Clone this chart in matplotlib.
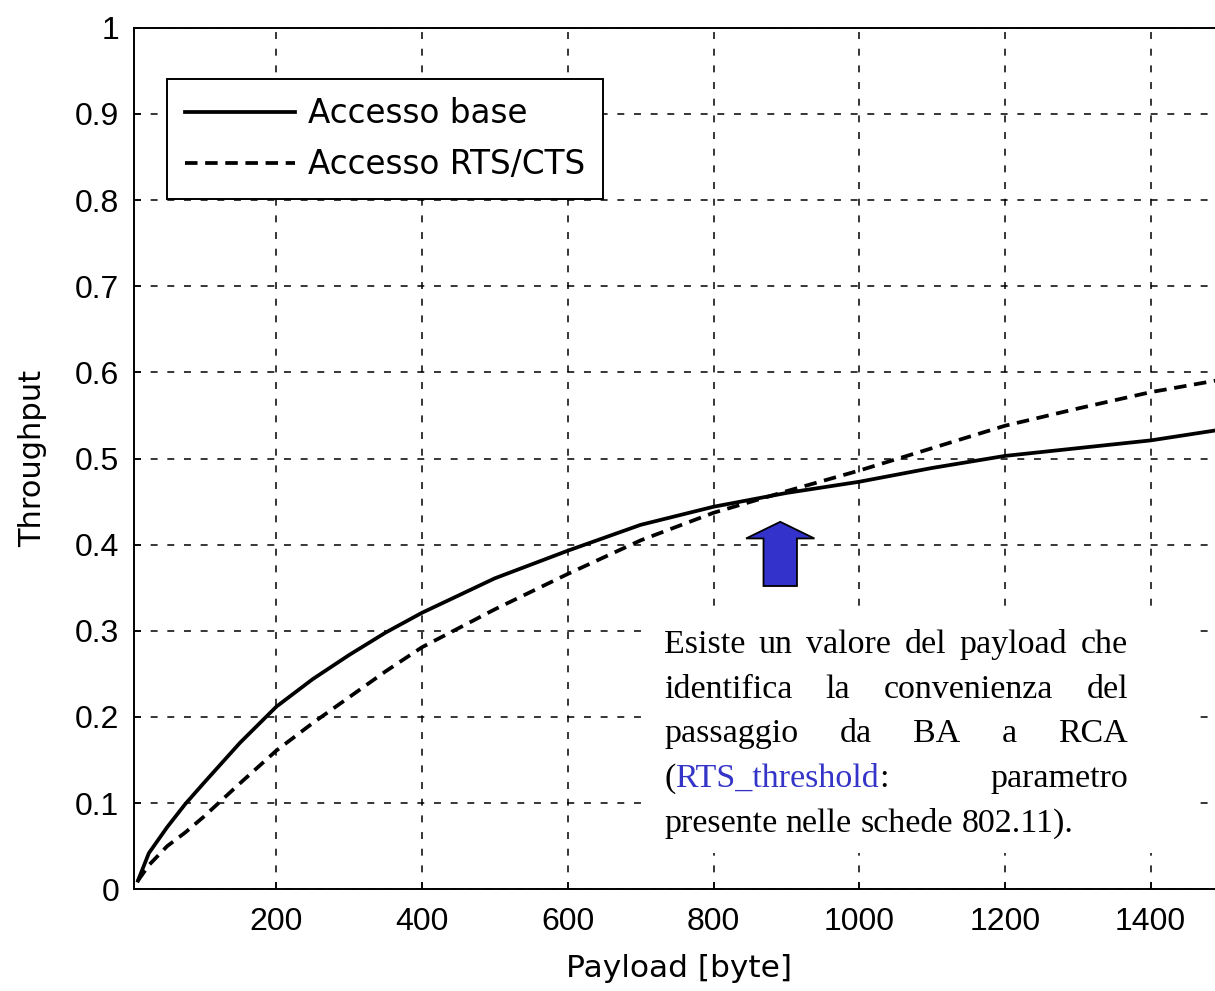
import matplotlib
matplotlib.use("Agg")
import matplotlib.pyplot as plt
from matplotlib.patches import Rectangle, FancyArrow

# ---------------- data ----------------
payload = [10, 25, 50, 75, 100, 150, 200, 250, 300, 350, 400, 500, 600, 700,
           800, 900, 1000, 1100, 1200, 1300, 1400, 1500]
throughput_base = [0.010, 0.042, 0.072, 0.099, 0.123, 0.170, 0.212, 0.244, 0.272,
                   0.298, 0.321, 0.361, 0.393, 0.423, 0.444, 0.460, 0.473, 0.489,
                   0.503, 0.512, 0.521, 0.534]
throughput_rts = [0.010, 0.028, 0.050, 0.066, 0.084, 0.123, 0.161, 0.193, 0.223,
                  0.253, 0.281, 0.325, 0.366, 0.405, 0.437, 0.462, 0.486, 0.512,
                  0.538, 0.558, 0.577, 0.592]
series_labels = ["Accesso base", "Accesso RTS/CTS"]
x_ticks = [200, 400, 600, 800, 1000, 1200, 1400]
y_ticks = [0, 0.1, 0.2, 0.3, 0.4, 0.5, 0.6, 0.7, 0.8, 0.9, 1.0]
y_tick_labels = ["0", "0.1", "0.2", "0.3", "0.4", "0.5", "0.6", "0.7", "0.8", "0.9", "1"]
note_lines = [
    [["Esiste"], ["un"], ["valore"], ["del"], ["payload"], ["che"]],
    [["identifica"], ["la"], ["convenienza"], ["del"]],
    [["passaggio"], ["da"], ["BA"], ["a"], ["RCA"]],
    [["(", "RTS_threshold", ":"], ["parametro"]],
    [["presente"], ["nelle"], ["schede"], ["802.11)."]],
]
blue_words = {"RTS_threshold"}

# ---------------- figure ----------------
W, H = 1215, 991
plt.rcParams['lines.scale_dashes'] = False
fig = plt.figure(figsize=(W / 100, H / 100), dpi=100)

def fx(p):
    return p / W

def fy(p):
    return 1 - p / H

ax_l, ax_r, ax_t, ax_b = 134.3, 1223.5, 27.7, 889.3
ax = fig.add_axes([fx(ax_l), fy(ax_b), (ax_r - ax_l) / W, (ax_b - ax_t) / H])
ax.set_xlim(5, 1500)
ax.set_ylim(0, 1)

tick_font = dict(family=["Liberation Sans", "DejaVu Sans"], size=23)
label_family = ["DejaVu Sans"]

ax.plot(payload, throughput_base, color="black", lw=2.7, ls="-",
        label=series_labels[0], zorder=3)
ax.plot(payload, throughput_rts, color="black", lw=2.7, dashes=(9, 5.5),
        label=series_labels[1], zorder=3)

ax.set_xticks(x_ticks)
ax.set_xticklabels([str(t) for t in x_ticks], **tick_font)
ax.set_yticks(y_ticks)
ax.set_yticklabels(y_tick_labels, **tick_font)
ax.tick_params(direction="in", length=5, width=1.1, pad=11, colors="black")
ax.tick_params(axis="x", pad=13)

ax.grid(True, color="black", lw=1.1, dashes=(5, 7))
for s in ax.spines.values():
    s.set_linewidth(1.4)
    s.set_color("black")

ax.set_xlabel("Payload [byte]", family=label_family, size=22.5, labelpad=12)
ax.set_ylabel("Throughput", family=label_family, size=22, labelpad=20)

leg = ax.legend(loc="upper left", bbox_to_anchor=(fx(166.7), fy(79.3)),
                bbox_transform=fig.transFigure, borderaxespad=0,
                prop=dict(family=label_family, size=23.5),
                frameon=True, fancybox=False, edgecolor="black", framealpha=1,
                handlelength=3.37, handletextpad=0.4, labelspacing=0.55,
                borderpad=0.55)
leg.get_frame().set_linewidth(1.4)
leg.set_zorder(5)

# white box behind the note
ax.add_patch(Rectangle((fx(647), fy(853)), (1197 - 647) / W, (853 - 607) / H,
                       transform=fig.transFigure, facecolor="white",
                       edgecolor="none", zorder=2.2))

# arrow pointing at the crossing
ax.add_patch(FancyArrow(891.6, 0.352, 0, 0.0745, width=45.9, head_width=93.8,
                        head_length=0.0193, length_includes_head=True,
                        facecolor="#3333cc", edgecolor="black", lw=1.3,
                        zorder=4))

# justified note text
fig.canvas.draw()
renderer = fig.canvas.get_renderer()
note_font = dict(family=["Liberation Serif", "DejaVu Serif"], size=24.5)


def text_width(s):
    t = fig.text(0, 0, s, **note_font)
    w = t.get_window_extent(renderer).width
    t.remove()
    return w


space_w = text_width("a a") - text_width("aa")
left, right = 664, 1128
baselines = [653, 697.5, 742, 787, 832]
for i, (line, base_y) in enumerate(zip(note_lines, baselines)):
    word_pieces = []
    widths = []
    for word in line:
        pieces = [(seg, text_width(seg)) for seg in word]
        word_pieces.append(pieces)
        widths.append(sum(w for _, w in pieces))
    if i == len(note_lines) - 1:
        gap = space_w
    else:
        gap = (right - left - sum(widths)) / (len(line) - 1)
    x = left
    for pieces, wsum in zip(word_pieces, widths):
        xx = x
        for seg, w in pieces:
            col = "#3434c8" if seg in blue_words else "black"
            fig.text(fx(xx), fy(base_y), seg, color=col, ha="left",
                     va="baseline", **note_font)
            xx += w
        x += wsum + gap

fig.savefig("out.png", dpi=100)
